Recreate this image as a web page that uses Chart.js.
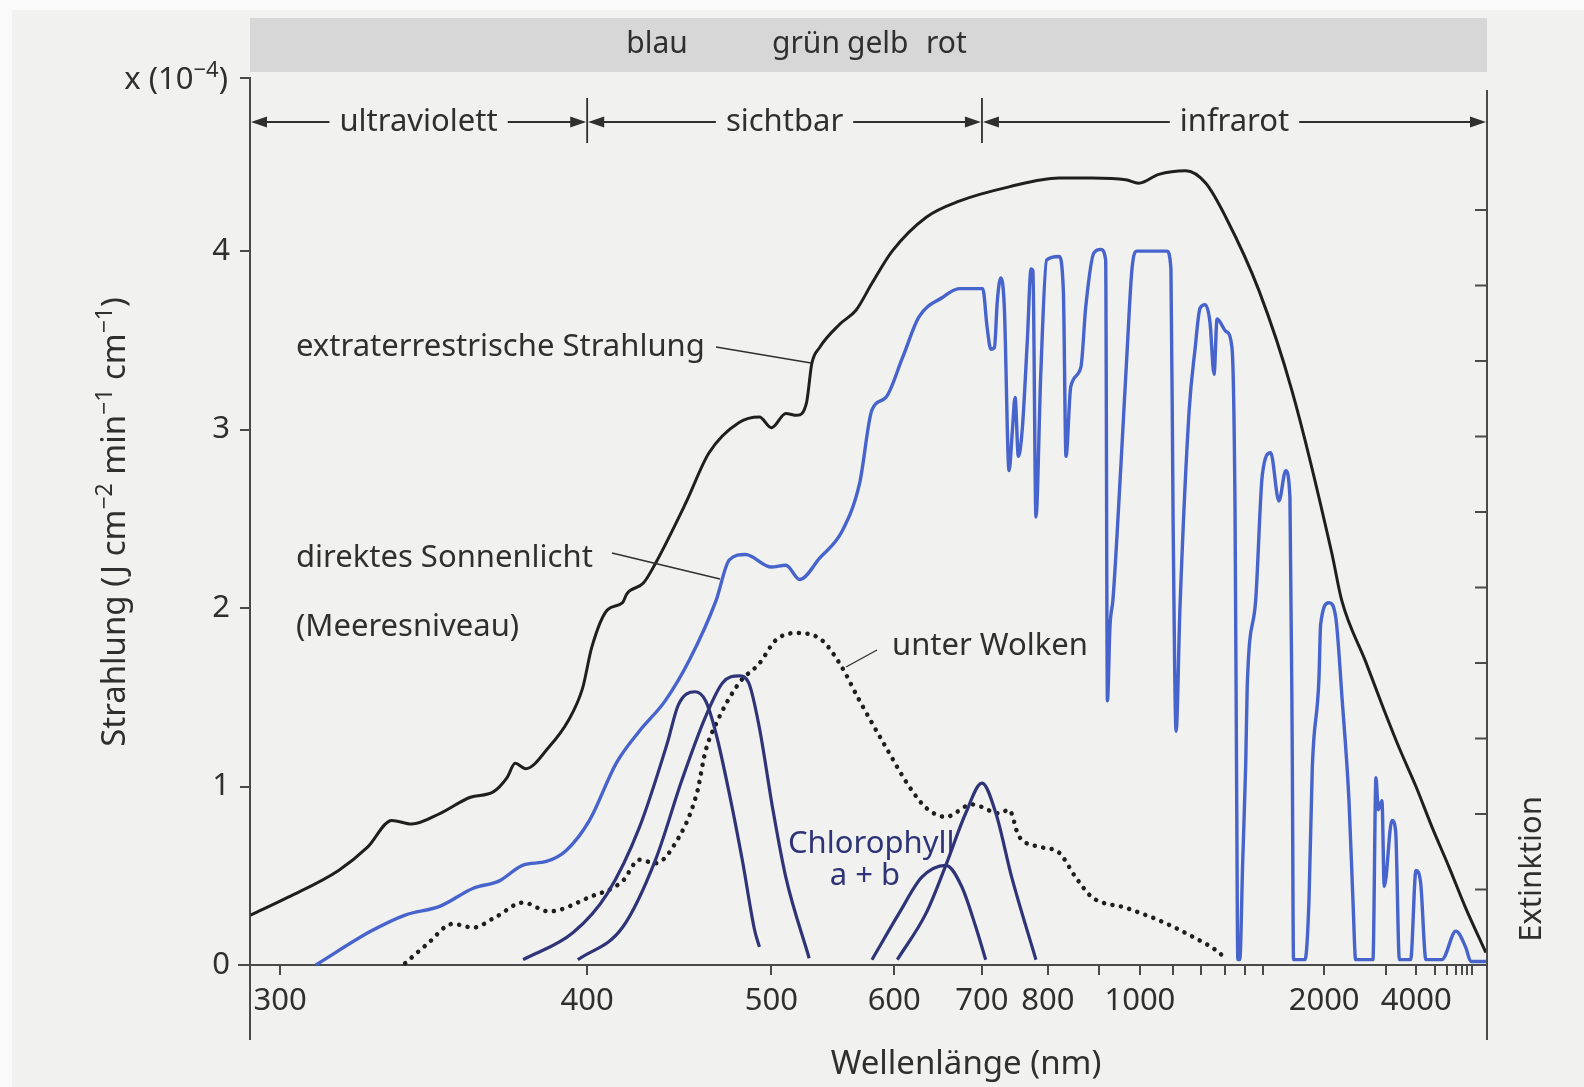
<!DOCTYPE html>
<html>
<head>
<meta charset="utf-8">
<title>Strahlung – Wellenlänge</title>
<script src="https://cdn.jsdelivr.net/npm/chart.js@4.4.1/dist/chart.umd.min.js"></script>
<style>
  html, body { margin: 0; padding: 0; background: #f1f1ef; }
  #wrap { width: 1584px; height: 1087px; position: relative; }
</style>
</head>
<body>
<div id="wrap"><canvas id="spectrum"></canvas></div>
<script>
// wavelength axis ticks (nm); only some get a label
const tickNm = [300, 400, 500, 600, 700, 800, 900, 1000, 1100, 1200, 1300, 1400, 1500,
  2000, 3000, 4000, 5000, 6000, 7000, 8000, 9000, 10000];
const labeledNm = [300, 400, 500, 600, 700, 800, 1000, 2000, 4000];
const yTicks = [0, 1, 2, 3, 4, 4.97];

// extraterrestrische Strahlung
const extraNm = [293, 302, 315, 323, 330, 336, 345, 355, 363, 368,
  371, 375, 384, 392, 398, 402, 409, 416, 418, 426,
  432, 448, 461, 479, 492, 500, 510, 518, 525, 529,
  535, 551, 565, 579, 598, 633, 671, 738, 820, 885,
  963, 997, 1054, 1142, 1218, 1304, 1477, 1702, 2086, 2213,
  2582, 2914, 3367, 3988, 4840, 6200, 8620, 13850, 16400];
const extraVal = [0.28, 0.38, 0.53, 0.66, 0.81, 0.79, 0.85, 0.94, 0.97, 1.05,
  1.13, 1.10, 1.22, 1.37, 1.55, 1.78, 1.99, 2.03, 2.08, 2.14,
  2.25, 2.59, 2.87, 3.04, 3.07, 3.01, 3.09, 3.08, 3.15, 3.37,
  3.46, 3.59, 3.67, 3.82, 4.00, 4.19, 4.28, 4.36, 4.41, 4.41,
  4.40, 4.38, 4.43, 4.45, 4.38, 4.19, 3.78, 3.22, 2.31, 2.04,
  1.70, 1.46, 1.22, 1.00, 0.77, 0.55, 0.32, 0.12, 0.07];

// direktes Sonnenlicht (Meeresniveau)
const directNm = [309, 324, 334, 345, 356, 365, 374, 383, 391, 401,
  413, 424, 437, 450, 465, 473, 483, 500, 510, 520,
  535, 553, 568, 579, 592, 608, 625, 651, 671, 701,
  707, 712, 717, 721, 726, 731, 738, 743, 747, 752,
  758, 766, 772, 775, 780, 788, 798, 820, 828, 833,
  842, 862, 872, 889, 904, 915, 919, 925, 932, 951,
  966, 979, 992, 1079, 1092, 1099, 1109, 1122, 1154, 1176,
  1195, 1215, 1235, 1252, 1265, 1305, 1333, 1348, 1356, 1362,
  1372, 1387, 1403, 1411, 1458, 1498, 1550, 1606, 1655, 1687,
  1705, 1715, 1812, 1848, 1879, 1945, 1963, 2054, 2134, 2218,
  2312, 2371, 2413, 2721, 2783, 2832, 2915, 2969, 3165, 3269,
  3380, 3771, 3988, 4200, 4470, 5546, 7027, 8620, 9840, 16400];
const directVal = [0.00, 0.19, 0.28, 0.33, 0.43, 0.47, 0.56, 0.58, 0.64, 0.81,
  1.13, 1.31, 1.48, 1.71, 2.04, 2.27, 2.30, 2.23, 2.24, 2.16,
  2.28, 2.43, 2.70, 3.11, 3.18, 3.40, 3.63, 3.74, 3.79, 3.79,
  3.57, 3.45, 3.46, 3.72, 3.85, 3.69, 2.77, 3.00, 3.18, 2.85,
  3.00, 3.50, 3.90, 3.89, 2.51, 3.31, 3.95, 3.97, 3.78, 2.85,
  3.24, 3.35, 3.69, 3.99, 4.01, 3.95, 1.48, 1.90, 2.05, 2.80,
  3.42, 3.90, 4.00, 4.00, 3.90, 2.50, 1.31, 2.00, 3.10, 3.45,
  3.68, 3.70, 3.60, 3.31, 3.62, 3.55, 3.46, 2.56, 1.00, 0.03,
  0.03, 0.58, 1.13, 1.56, 2.04, 2.75, 2.87, 2.60, 2.77, 2.62,
  1.20, 0.03, 0.03, 0.36, 1.10, 1.60, 1.91, 2.03, 1.95, 1.48,
  0.92, 0.36, 0.03, 0.03, 1.05, 0.87, 0.92, 0.44, 0.81, 0.75,
  0.03, 0.03, 0.53, 0.46, 0.03, 0.03, 0.19, 0.10, 0.02, 0.02];

// unter Wolken
const cloudNm = [334, 341, 349, 356, 364, 374, 384, 401, 416, 424,
  432, 441, 454, 459, 465, 479, 492, 503, 517, 535,
  551, 568, 592, 615, 633, 655, 687, 724, 738, 753,
  790, 820, 852, 885, 964, 1055, 1165, 1273, 1305];
const cloudVal = [0.01, 0.12, 0.23, 0.21, 0.27, 0.35, 0.30, 0.38, 0.47, 0.59,
  0.57, 0.66, 0.96, 1.20, 1.35, 1.58, 1.69, 1.82, 1.86, 1.83,
  1.69, 1.48, 1.22, 1.00, 0.88, 0.83, 0.90, 0.85, 0.87, 0.72,
  0.66, 0.63, 0.49, 0.38, 0.32, 0.25, 0.16, 0.07, 0.03];

// Chlorophyll a + b absorption bands (Extinktion, right axis units)
const chlBlue1Nm = [374, 394, 409, 424, 438, 444, 453, 459, 465, 473, 481, 489, 492];
const chlBlue1Ext = [0.07, 0.43, 0.95, 1.82, 2.93, 3.45, 3.62, 3.50, 3.07, 2.27, 1.39, 0.45, 0.24];
const chlBlue2Nm = [396, 416, 432, 446, 459, 469, 479, 485, 492, 501, 510, 527];
const chlBlue2Ext = [0.07, 0.50, 1.39, 2.46, 3.29, 3.74, 3.83, 3.74, 3.14, 2.06, 1.16, 0.09];
const chlRed1Nm = [579, 605, 628, 655, 674, 692, 705];
const chlRed1Ext = [0.07, 0.69, 1.16, 1.32, 1.04, 0.50, 0.07];
const chlRed2Nm = [603, 633, 655, 679, 700, 719, 742, 780];
const chlRed2Ext = [0.07, 0.69, 1.32, 2.01, 2.41, 2.01, 1.16, 0.07];

const FONT = "'Noto Sans', 'Open Sans', sans-serif";
const INK = '#2f2f2f';
const AXIS = '#4a4a4a';
const BLUE = '#4763cc';
const NAVY = '#2e3477';

// x runs linear in 1/λ (µm⁻¹), reversed so long waves sit on the right
const toPts = (nm, vals) => nm.map((l, i) => ({ x: 1000 / l, y: vals[i] }));

function line(label, nm, vals, color, width, extra) {
  return Object.assign({
    label, data: toPts(nm, vals), borderColor: color, borderWidth: width,
    pointRadius: 0, fill: false, cubicInterpolationMode: 'monotone', clip: false
  }, extra || {});
}

function arrowHead(ctx, x, y, dir) {
  ctx.beginPath();
  ctx.moveTo(x, y);
  ctx.lineTo(x - dir * 16, y - 5.5);
  ctx.lineTo(x - dir * 16, y + 5.5);
  ctx.closePath();
  ctx.fill();
}

function rangeArrow(ctx, x0, x1, y, label) {
  const w = ctx.measureText(label).width;
  const mid = (x0 + x1) / 2;
  ctx.fillText(label, mid, y + 9);
  ctx.beginPath();
  ctx.moveTo(x0 + 4, y); ctx.lineTo(mid - w / 2 - 10, y);
  ctx.moveTo(mid + w / 2 + 10, y); ctx.lineTo(x1 - 4, y);
  ctx.stroke();
  arrowHead(ctx, x0 + 1, y, -1);
  arrowHead(ctx, x1 - 1, y, 1);
}

// text with superscript pieces; align 'center' or 'right' about x
function richText(ctx, parts, x, y, size, align) {
  const supSize = Math.round(size * 0.7);
  let total = 0;
  parts.forEach(([t, sup]) => {
    ctx.font = `${sup ? supSize : size}px ${FONT}`;
    total += ctx.measureText(t).width;
  });
  let cx = align === 'right' ? x - total : x - total / 2;
  parts.forEach(([t, sup]) => {
    ctx.font = `${sup ? supSize : size}px ${FONT}`;
    ctx.fillText(t, cx, sup ? y - size * 0.4 : y);
    cx += ctx.measureText(t).width;
  });
}

const decor = {
  id: 'decor',
  beforeDraw(chart) {
    const { ctx, width, height, chartArea } = chart;
    ctx.save();
    ctx.fillStyle = '#f1f1ef';
    ctx.fillRect(0, 0, width, height);
    ctx.fillStyle = '#fafafa';
    ctx.fillRect(0, 0, 12, height);
    ctx.fillRect(0, 0, width, 10);
    // colour band strip
    ctx.fillStyle = '#d7d7d7';
    ctx.fillRect(chartArea.left, 18, chartArea.right - chartArea.left, 54);
    ctx.restore();
  },
  afterDraw(chart) {
    const { ctx, chartArea } = chart;
    const x = chart.scales.x, y = chart.scales.y, y2 = chart.scales.y2;
    const px = nm => x.getPixelForValue(1000 / nm);
    const L = chartArea.left, R = chartArea.right, B = chartArea.bottom;
    ctx.save();
    ctx.fillStyle = INK;
    ctx.strokeStyle = INK;

    // colour names in the band
    ctx.font = `30px ${FONT}`;
    ctx.textAlign = 'center';
    ctx.fillText('blau', 657, 53);
    ctx.textAlign = 'left';
    ctx.fillText('grün', 772, 53);
    ctx.fillText('gelb', 847, 53);
    ctx.fillText('rot', 926, 53);

    // spectral ranges
    ctx.font = `31px ${FONT}`;
    ctx.textAlign = 'center';
    ctx.lineWidth = 1.8;
    const x400 = px(400), x700 = px(700);
    rangeArrow(ctx, L, x400, 122, 'ultraviolett');
    rangeArrow(ctx, x400, x700, 122, 'sichtbar');
    rangeArrow(ctx, x700, R, 122, 'infrarot');
    ctx.beginPath();
    ctx.moveTo(x400, 98); ctx.lineTo(x400, 143);
    ctx.moveTo(x700, 98); ctx.lineTo(x700, 143);
    ctx.stroke();

    // unit factor at the top of the y axis
    ctx.textAlign = 'left';
    richText(ctx, [['x (10', 0], ['−4', 1], [')', 0]], 228, y.getPixelForValue(4.97) + 11, 31, 'right');

    // frame extensions and the Extinktion axis
    ctx.strokeStyle = AXIS;
    ctx.lineWidth = 2;
    ctx.beginPath();
    ctx.moveTo(L, B); ctx.lineTo(L, 1040);
    ctx.moveTo(238, B); ctx.lineTo(L, B);
    ctx.moveTo(R, 90); ctx.lineTo(R, 1040);
    for (let i = 1; i <= 10; i++) {
      const ty = y2.getPixelForValue(i);
      ctx.moveTo(R, ty); ctx.lineTo(R - 12, ty);
    }
    ctx.stroke();

    // curve labels
    ctx.fillStyle = INK;
    ctx.strokeStyle = INK;
    ctx.lineWidth = 1.3;
    ctx.textAlign = 'left';
    ctx.font = `31px ${FONT}`;
    ctx.fillText('extraterrestrische Strahlung', 296, 356);
    ctx.fillText('direktes Sonnenlicht', 296, 567);
    ctx.fillText('(Meeresniveau)', 296, 636);
    ctx.fillText('unter Wolken', 892, 655);
    ctx.beginPath();
    ctx.moveTo(716, 347); ctx.lineTo(811, 363);
    ctx.moveTo(612, 553); ctx.lineTo(720, 579);
    ctx.moveTo(877, 650); ctx.lineTo(846, 667);
    ctx.stroke();

    ctx.fillStyle = NAVY;
    ctx.fillText('Chlorophyll', 788, 853);
    ctx.textAlign = 'center';
    ctx.fillText('a + b', 865, 885);

    // axis titles
    ctx.fillStyle = INK;
    ctx.font = `33px ${FONT}`;
    ctx.fillText('Wellenlänge (nm)', 966, 1074);

    ctx.save();
    ctx.translate(1541, 869);
    ctx.rotate(-Math.PI / 2);
    ctx.font = `31px ${FONT}`;
    ctx.textAlign = 'center';
    ctx.fillText('Extinktion', 0, 0);
    ctx.restore();

    ctx.save();
    ctx.translate(125, 522);
    ctx.rotate(-Math.PI / 2);
    ctx.textAlign = 'left';
    richText(ctx, [['Strahlung (J cm', 0], ['−2', 1], [' min', 0], ['−1', 1],
      [' cm', 0], ['−1', 1], [')', 0]], 0, 0, 33, 'center');
    ctx.restore();

    ctx.restore();
  }
};

new Chart(document.getElementById('spectrum'), {
  type: 'line',
  data: {
    datasets: [
      line('Chlorophyll a+b', chlBlue1Nm, chlBlue1Ext, NAVY, 3.2, { yAxisID: 'y2' }),
      line('Chlorophyll a+b 2', chlBlue2Nm, chlBlue2Ext, NAVY, 3.2, { yAxisID: 'y2' }),
      line('Chlorophyll rot 1', chlRed1Nm, chlRed1Ext, NAVY, 3.2, { yAxisID: 'y2' }),
      line('Chlorophyll rot 2', chlRed2Nm, chlRed2Ext, NAVY, 3.2, { yAxisID: 'y2' }),
      line('unter Wolken', cloudNm, cloudVal, '#1e1e1e', 4.5,
        { borderDash: [0.1, 8.5], borderCapStyle: 'round' }),
      line('direktes Sonnenlicht', directNm, directVal, BLUE, 3.4),
      line('extraterrestrische Strahlung', extraNm, extraVal, '#1f1f1f', 3)
    ]
  },
  options: {
    responsive: true,
    maintainAspectRatio: false,
    animation: false,
    devicePixelRatio: 1,
    layout: { padding: { top: 78, left: 0, right: 0, bottom: 0 } },
    plugins: { legend: { display: false }, tooltip: { enabled: false } },
    scales: {
      x: {
        type: 'linear', reverse: true, min: 0.058, max: 3.415,
        afterBuildTicks: s => { s.ticks = tickNm.map(nm => ({ value: 1000 / nm })); },
        afterFit: s => { s.height = 122; },
        border: { color: AXIS, width: 2 },
        grid: { drawOnChartArea: false, tickLength: 10, color: AXIS, lineWidth: 2 },
        ticks: {
          autoSkip: false, maxRotation: 0, padding: 8, color: INK,
          font: { family: FONT, size: 31 },
          callback: v => {
            const nm = Math.round(1000 / v);
            return labeledNm.includes(nm) ? String(nm) : '';
          }
        }
      },
      y: {
        min: 0, max: 4.97,
        afterBuildTicks: s => { s.ticks = yTicks.map(v => ({ value: v })); },
        afterFit: s => { s.width = 250; },
        border: { color: AXIS, width: 2 },
        grid: { drawOnChartArea: false, tickLength: 10, color: AXIS, lineWidth: 2 },
        ticks: {
          padding: 10, color: INK, font: { family: FONT, size: 31 },
          // the top tick carries the unit factor, drawn by the decor plugin
          callback: v => (v === 4.97 ? '' : v)
        }
      },
      y2: {
        position: 'right', min: 0, max: 11.75,
        afterFit: s => { s.width = 97; },
        border: { display: false },
        grid: { display: false },
        ticks: { display: false }
      }
    }
  },
  plugins: [decor]
});
</script>
</body>
</html>
